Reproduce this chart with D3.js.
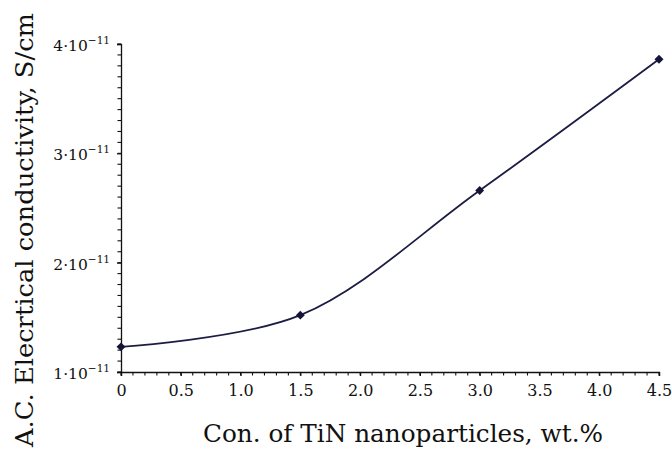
<!DOCTYPE html>
<html>
<head>
<meta charset="utf-8">
<script src="https://cdn.jsdelivr.net/npm/d3@7"></script>
<style>
  html, body { margin: 0; padding: 0; background: #fff; }
  svg { display: block; }
  text { font-family: "DejaVu Serif", "Liberation Serif", serif; fill: #111; }
</style>
</head>
<body>
<svg id="chart" width="672" height="450"></svg>
<script>
// TiN concentration (wt.%) and measured A.C. conductivity (units of 1e-11 S/cm)
const concentration = [0, 1.5, 3.0, 4.5];
const conductivity = [1.23, 1.52, 2.66, 3.86];
const xTickValues = [0, 0.5, 1.0, 1.5, 2.0, 2.5, 3.0, 3.5, 4.0, 4.5];
const yTickValues = [1, 2, 3, 4];

const svg = d3.select("#chart");
const margin = { left: 121, right: 13, top: 44, bottom: 78 };
const W = 672, H = 450;

const x = d3.scaleLinear().domain([0, 4.5]).range([margin.left, W - margin.right]);
const y = d3.scaleLinear().domain([1, 4]).range([H - margin.bottom, margin.top]);

const ink = "#111";

// x axis: major labels every 0.5, minor ticks every 0.1
const xAxis = svg.append("g").attr("transform", `translate(0,${y(1)})`)
  .call(d3.axisBottom(x).tickValues(xTickValues)
    .tickFormat(d => d === 0 ? "0" : d3.format(".1f")(d))
    .tickSize(4).tickPadding(9));
xAxis.select(".domain").attr("stroke", ink).attr("stroke-width", 1.3);
xAxis.selectAll(".tick line").attr("stroke", ink).attr("stroke-width", 1.2);
xAxis.selectAll(".tick text").attr("font-size", 16).attr("fill", ink)
  .attr("font-family", "'DejaVu Serif', serif");
svg.append("g").selectAll("line").data(d3.range(0, 46).map(i => i / 10))
  .join("line")
  .attr("x1", d => x(d)).attr("x2", d => x(d))
  .attr("y1", y(1)).attr("y2", y(1) + 3.5)
  .attr("stroke", ink).attr("stroke-width", 1.1);

// y axis: majors at 1..4 ×10^-11, ten subdivisions each
const yAxis = svg.append("g").attr("transform", `translate(${x(0)},0)`)
  .call(d3.axisLeft(y).tickValues(yTickValues).tickFormat("").tickSize(4));
yAxis.select(".domain").attr("stroke", ink).attr("stroke-width", 1.3);
yAxis.selectAll(".tick line").attr("stroke", ink).attr("stroke-width", 1.2);
svg.append("g").selectAll("line").data(d3.range(10, 41).map(i => i / 10))
  .join("line")
  .attr("x1", x(0) - 3.5).attr("x2", x(0))
  .attr("y1", d => y(d)).attr("y2", d => y(d))
  .attr("stroke", ink).attr("stroke-width", 1.1);

// y tick labels like 4·10^-11
const yl = svg.append("g").selectAll("text").data(yTickValues).join("text")
  .attr("x", x(0) - 11).attr("y", d => y(d) + 7)
  .attr("text-anchor", "end").attr("font-size", 15.5);
yl.append("tspan").text(d => d + "·10");
yl.append("tspan").attr("dy", -7).attr("font-size", 10.5).text("−11");

// data curve and markers
const pts = concentration.map((c, i) => [c, conductivity[i]]);
const line = d3.line().x(d => x(d[0])).y(d => y(d[1])).curve(d3.curveCatmullRom.alpha(0.5));
svg.append("path").datum(pts).attr("d", line)
  .attr("fill", "none").attr("stroke", "#1c1c44").attr("stroke-width", 1.8);
svg.append("g").selectAll("path").data(pts).join("path")
  .attr("transform", d => `translate(${x(d[0])},${y(d[1])}) rotate(45)`)
  .attr("d", d3.symbol(d3.symbolSquare, 40))
  .attr("fill", "#14143a");

// axis titles
svg.append("text")
  .attr("x", 403).attr("y", 442)
  .attr("text-anchor", "middle").attr("font-size", 23.5)
  .attr("textLength", 400).attr("lengthAdjust", "spacingAndGlyphs")
  .text("Con. of TiN nanoparticles, wt.%");
svg.append("text")
  .attr("transform", "translate(33,230) rotate(-90)")
  .attr("text-anchor", "middle").attr("font-size", 23.5)
  .attr("textLength", 434).attr("lengthAdjust", "spacingAndGlyphs")
  .text("A.C. Elecrtical conductivity, S/cm");
</script>
</body>
</html>
